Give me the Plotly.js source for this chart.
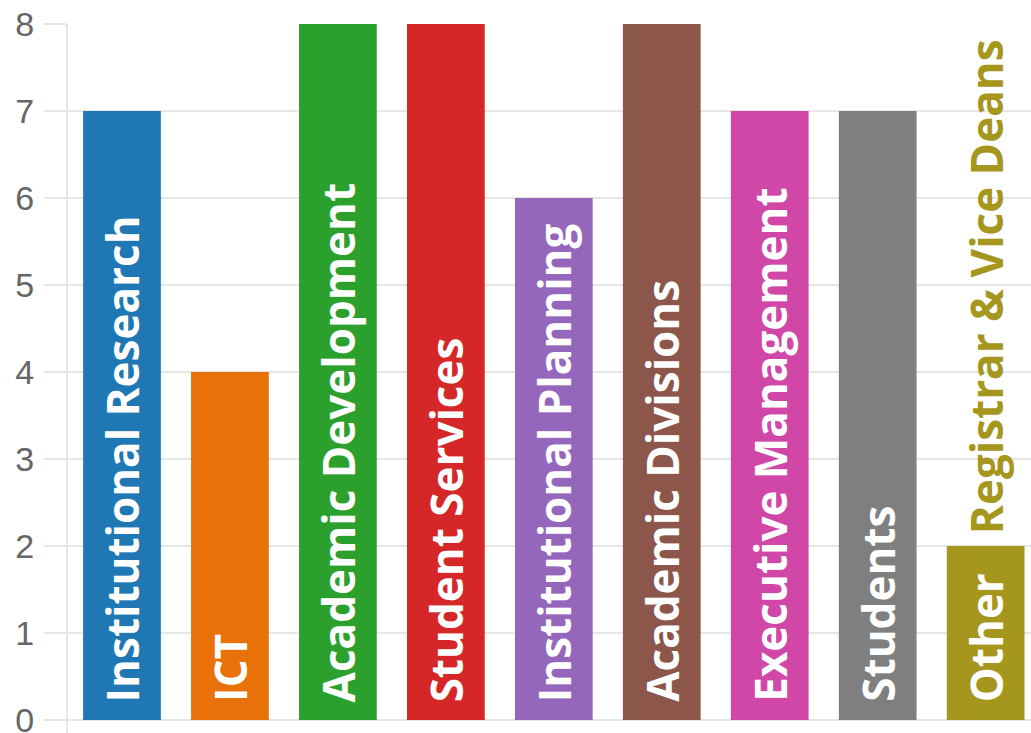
<!DOCTYPE html>
<html>
<head>
<meta charset="utf-8">
<script src="https://cdn.plot.ly/plotly-3.0.1.min.js"></script>
<style>html,body{margin:0;padding:0;background:#fff;}#chart{width:1031px;height:733px;}</style>
</head>
<body>
<div id="chart"></div>
<script>
const categories = ["Institutional Research","ICT","Academic Development","Student Services","Institutional Planning","Academic Divisions","Executive Management","Students","Other"];
const values = [7,4,8,8,6,8,7,7,2];
const barColors = ["#1f77b4","#e8710a","#2ca02c","#d62728","#9467bd","#8c564b","#d047a8","#7f7f7f","#a5961e"];
const barLabels = ["Institutional Research","ICT","Academic Development","Student Services","Institutional Planning","Academic Divisions","Executive Management","Students","Other"];
const extraLabel = {category: "Other", value: 2, text: "Registrar &amp; Vice Deans", color: "#a5961e"};
const yTicks = [0,1,2,3,4,5,6,7,8];

const labelFont = {family: "Open Sans", size: 44, color: "#ffffff", weight: 700};

const annotations = categories.map((c, i) => ({
  x: c, y: 0, xref: "x", yref: "y",
  text: barLabels[i], textangle: -90, showarrow: false,
  xanchor: "center", yanchor: "bottom", yshift: 16,
  font: labelFont
}));
annotations.push({
  x: extraLabel.category, y: extraLabel.value, xref: "x", yref: "y",
  text: extraLabel.text, textangle: -90, showarrow: false,
  xanchor: "center", yanchor: "bottom", yshift: 10,
  font: Object.assign({}, labelFont, {color: extraLabel.color})
});

const trace = {
  type: "bar", x: categories, y: values,
  marker: {color: barColors}, width: 0.72,
  hoverinfo: "x+y"
};

const layout = {
  width: 1031, height: 733,
  margin: {l: 68, r: 0, t: 24, b: 0, pad: 0},
  paper_bgcolor: "#ffffff", plot_bgcolor: "#ffffff",
  showlegend: false,
  xaxis: {
    type: "category", range: [-0.5, 8.42], showticklabels: false,
    showgrid: false, zeroline: false, showline: false, ticks: ""
  },
  yaxis: {
    range: [-0.1494, 8], tickvals: yTicks, ticktext: yTicks.map(String),
    showgrid: true, gridcolor: "#e6e6e6", gridwidth: 2,
    zeroline: false, showline: true, linecolor: "#e6e6e6", linewidth: 2,
    ticks: "outside", ticklen: 22, tickcolor: "#e6e6e6", tickwidth: 2,
    ticklabelstandoff: 3, ticklabeloverflow: "allow",
    tickfont: {family: "Liberation Sans", size: 34, color: "#666666"}
  },
  annotations: annotations
};

Plotly.newPlot("chart", [trace], layout, {displayModeBar: false, staticPlot: true});
</script>
</body>
</html>
